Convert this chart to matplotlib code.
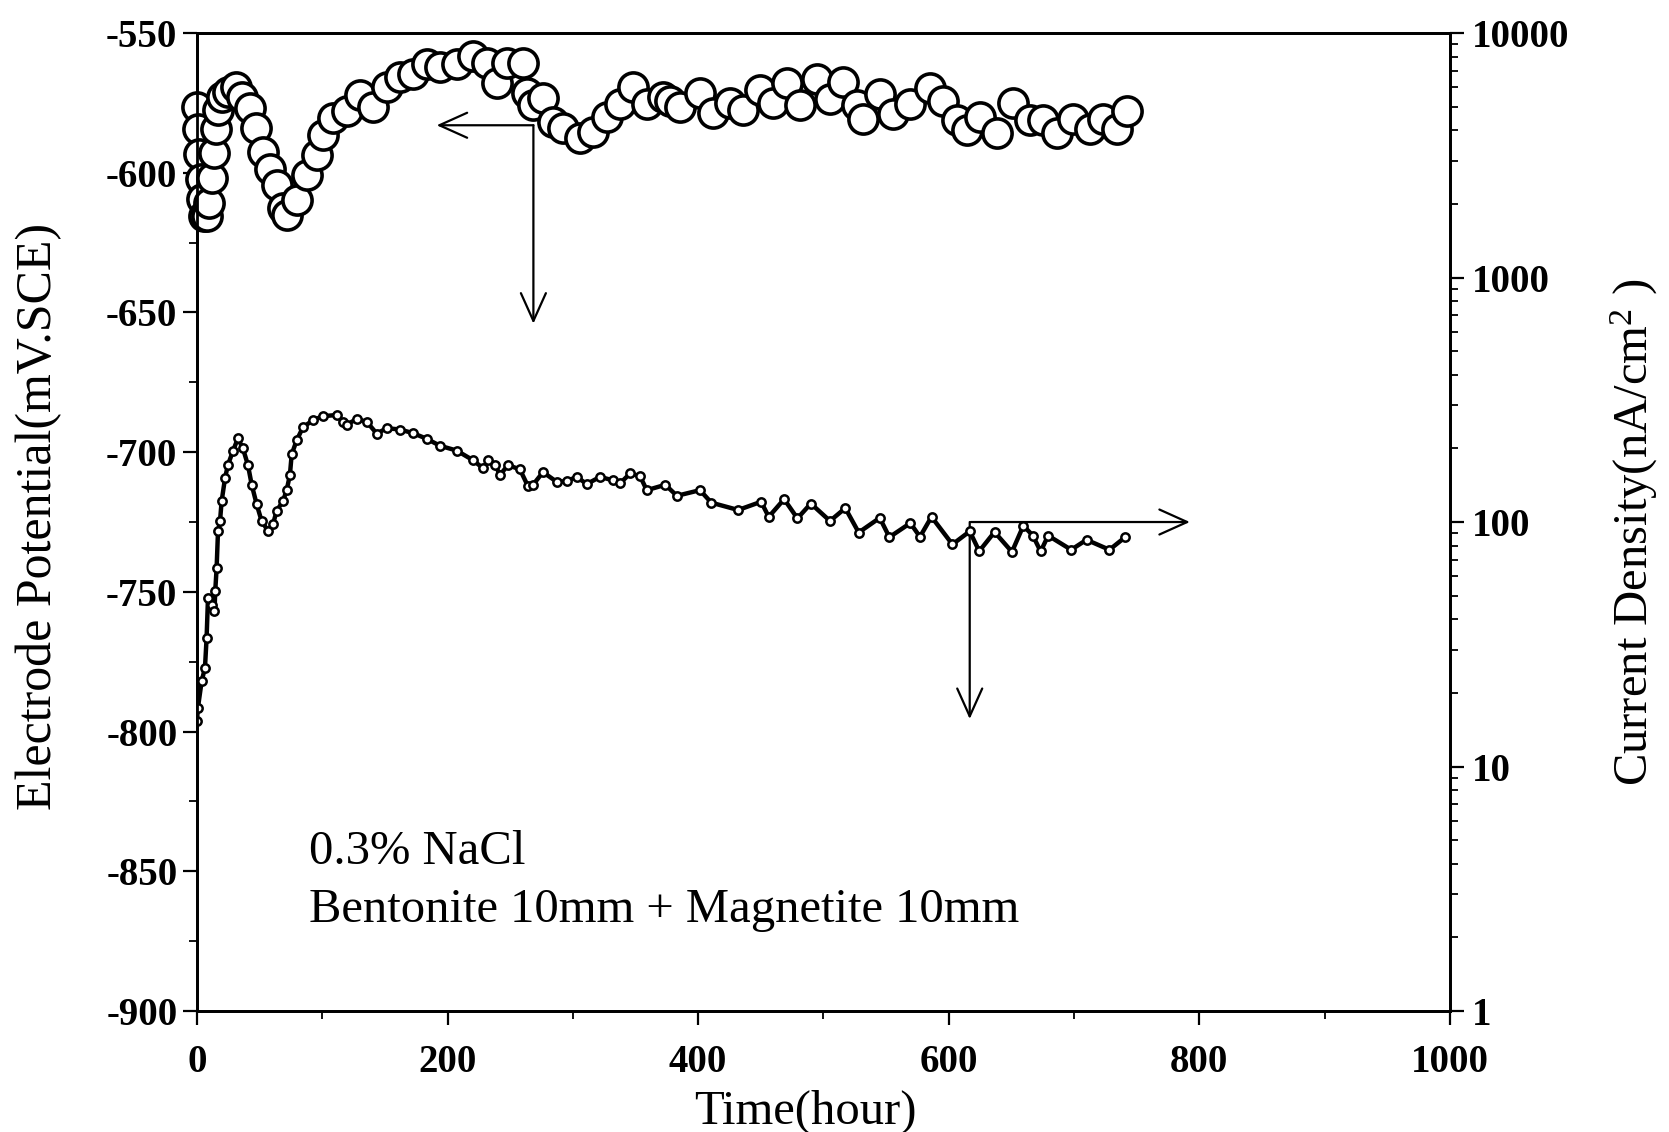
import matplotlib
matplotlib.use('Agg')
import matplotlib.pyplot as plt
from matplotlib.ticker import MultipleLocator, LogLocator, NullFormatter

plt.rcParams['font.family'] = ['Liberation Serif', 'DejaVu Serif']
plt.rcParams['mathtext.fontset'] = 'custom'
plt.rcParams['mathtext.rm'] = 'Liberation Serif'
plt.rcParams['mathtext.it'] = 'Liberation Serif:italic'

# ---------------- data ----------------
# Electrode potential (mV vs SCE), left axis
t_pot = [0, 1, 2, 3, 4, 5.5, 8, 10, 12, 13.5, 15, 17, 20, 25, 31, 36, 42, 47.5, 52.5,
         58, 63.5, 68.5, 71.6, 79.6, 87.6, 95.6, 100.6, 108.6, 119.5, 130, 140.4, 151.4,
         162, 172.4, 183.4, 194, 207.3, 220.3, 231.2, 239.2, 247.3, 260.3, 263.3, 268.2,
         276.2, 284.2, 292.2, 305.8, 316.2, 327.1, 337.7, 348.3, 359, 372.2, 377.6, 385.6,
         401.5, 411.9, 425.5, 435.9, 449.4, 459.8, 471, 481.4, 495, 505.4, 515.7, 526.9,
         531.7, 545.3, 555.7, 569.3, 585.1, 595.6, 606.7, 614.7, 625, 638.6, 651.4, 665,
         675.3, 686.5, 699.3, 712.9, 723.3, 734.4, 742.4]
v_pot = [-576.3, -584.5, -593.4, -602.3, -609.5, -615.5, -615.5, -611, -602, -593, -584.5,
         -577.5, -573, -571, -569.3, -573, -577, -584, -592.4, -598.5, -604.5, -612.7,
         -615.2, -609.9, -600.8, -593.6, -586.4, -580.3, -577.8, -572, -576.6, -569.4,
         -565.8, -564.6, -561, -562, -560.9, -558.3, -560.8, -567.9, -560.7, -560.6,
         -571.3, -575.9, -573.4, -581.9, -584, -587.5, -585.3, -580.2, -575.5, -569.4,
         -575.4, -572.8, -574.3, -576.4, -571.6, -578.7, -575.1, -577.5, -570.3, -574.9,
         -567.7, -575.9, -566.5, -573.6, -567.5, -575.6, -580.6, -571.9, -579, -575.4,
         -569.6, -574.2, -581.2, -584.8, -580.1, -585.7, -575, -581, -581, -585.6, -580.8,
         -584.3, -580.8, -584.3, -577.8]

# Current density (nA/cm2), right log axis
t_cd = [0, 0.8, 3.8, 6.4, 7.7, 8.8, 11.7, 14.0, 14.6, 15.7, 16.8, 18.4, 19.7, 22.4, 24.7,
        28.7, 32.7, 36.7, 40.7, 43.7, 47.7, 51.6, 56.7, 60.7, 63.6, 68.7, 71.6, 74.2, 75.6,
        79.6, 84.6, 92.6, 100.6, 111.5, 116.5, 119.5, 127.5, 135.5, 143.5, 151.4, 162,
        172.4, 183.4, 194, 207.3, 220.3, 228.3, 232.3, 237.9, 241.9, 248.3, 257.8, 264.2,
        268.2, 276.2, 287.1, 295.1, 303.1, 311.1, 321.7, 332.1, 337.7, 345.7, 353.6, 359,
        373.8, 383, 401.4, 410.5, 431.9, 450.2, 456.3, 468.6, 479.2, 489.9, 505.2, 517.4,
        528.1, 544.9, 552.6, 569.3, 577, 586.2, 602.9, 616.7, 624.3, 636.5, 650.4, 659.5,
        667.1, 673.3, 679.3, 697.7, 709.9, 728.2, 740.5]
i_cd = [15.4, 17.4, 22.4, 25.3, 33.5, 48.8, 45.7, 43.2, 52.2, 64.7, 91.6, 100.7, 121.6,
        151, 171, 195, 220, 200, 171, 142, 118, 101, 92, 98, 111, 122, 135, 156, 189, 216,
        244, 261, 271, 274, 257, 250, 264, 257, 230, 242, 239, 231, 219, 205, 196, 179, 166,
        179, 171, 156, 171, 164, 140, 142, 160, 146, 147, 153, 143, 153, 148, 144, 158, 154,
        135, 142, 128, 135, 120, 112, 121, 105, 124, 103.5, 119, 101, 114, 90.6, 104, 86.7,
        99, 87, 105, 81, 91.6, 76, 91, 75.5, 96.6, 88, 75.8, 88, 77, 84.6, 77, 86.5]

x_ticks = [0, 200, 400, 600, 800, 1000]
y_ticks = [-900, -850, -800, -750, -700, -650, -600, -550]
y2_ticks = [1, 10, 100, 1000, 10000]

# ---------------- figure ----------------
fig = plt.figure(figsize=(16.69, 11.32), dpi=100)
ax = fig.add_axes([0.118, 0.1069, 0.7508, 0.8639])
ax2 = ax.twinx()

ax.plot(t_pot, v_pot, ls='none', marker='o', ms=21, mfc='white', mec='black',
        mew=2.6, clip_on=False, zorder=3)
ax2.plot(t_cd, i_cd, '-', color='black', lw=3.2, marker='o', ms=6, mfc='white',
         mec='black', mew=1.8)

ax.set_xlim(0, 1000)
ax.set_ylim(-900, -550)
ax2.set_yscale('log')
ax2.set_ylim(1, 10000)

ax.set_xticks(x_ticks, labels=[str(v) for v in x_ticks], fontsize=28, fontweight='bold')
ax.set_yticks(y_ticks, labels=[str(v) for v in y_ticks], fontsize=28, fontweight='bold')
ax.xaxis.set_minor_locator(MultipleLocator(100))
ax.yaxis.set_minor_locator(MultipleLocator(25))
ax2.set_yticks(y2_ticks, labels=[str(v) for v in y2_ticks], fontsize=28, fontweight='bold')
ax2.yaxis.set_minor_locator(LogLocator(base=10, subs=range(2, 10)))
ax2.yaxis.set_minor_formatter(NullFormatter())

ax.tick_params(axis='y', which='major', direction='out', length=10, width=1.6, pad=4)
ax.tick_params(axis='y', which='minor', direction='out', length=6, width=1.3)
ax.tick_params(axis='x', which='major', direction='out', length=10, width=1.6, pad=14)
ax.tick_params(axis='x', which='minor', direction='out', length=6, width=1.3)
ax2.tick_params(axis='y', which='major', direction='out', length=10, width=1.6, pad=6)
ax2.tick_params(axis='y', which='minor', direction='out', length=6, width=1.3)

for a in (ax, ax2):
    for s in a.spines.values():
        s.set_linewidth(2)

# labels
fig.text(39 / 1669, 1 - 516 / 1132, 'Electrode Potential(mV.SCE)', rotation=90,
         ha='center', va='center', fontsize=36)
fig.text(1634 / 1669, 1 - 532 / 1132, r'Current Density(nA/cm$^{2}$ )', rotation=90,
         ha='center', va='center', fontsize=35)
fig.text(805 / 1669, 1 - 1112 / 1132, 'Time(hour)', ha='center', va='center', fontsize=35)

fig.text(309 / 1669, 1 - 851.5 / 1132, '0.3% NaCl', ha='left', va='center', fontsize=35)
fig.text(309 / 1669, 1 - 910 / 1132, 'Bentonite 10mm + Magnetite 10mm', ha='left',
         va='center', fontsize=35)

# arrows
akw = dict(arrowstyle='->,head_length=1.0,head_width=0.45', lw=1.6, color='black',
           mutation_scale=20, shrinkA=0, shrinkB=0)
ax.annotate('', xy=(191.3, -583), xytext=(268.5, -583), arrowprops=akw)
ax.annotate('', xy=(268.5, -654), xytext=(268.5, -583), arrowprops=akw)
ax.annotate('', xy=(792.4, -725), xytext=(617.5, -725), arrowprops=akw)
ax.annotate('', xy=(616.7, -795.5), xytext=(616.7, -725), arrowprops=akw)

fig.savefig('out.png', dpi=100)
